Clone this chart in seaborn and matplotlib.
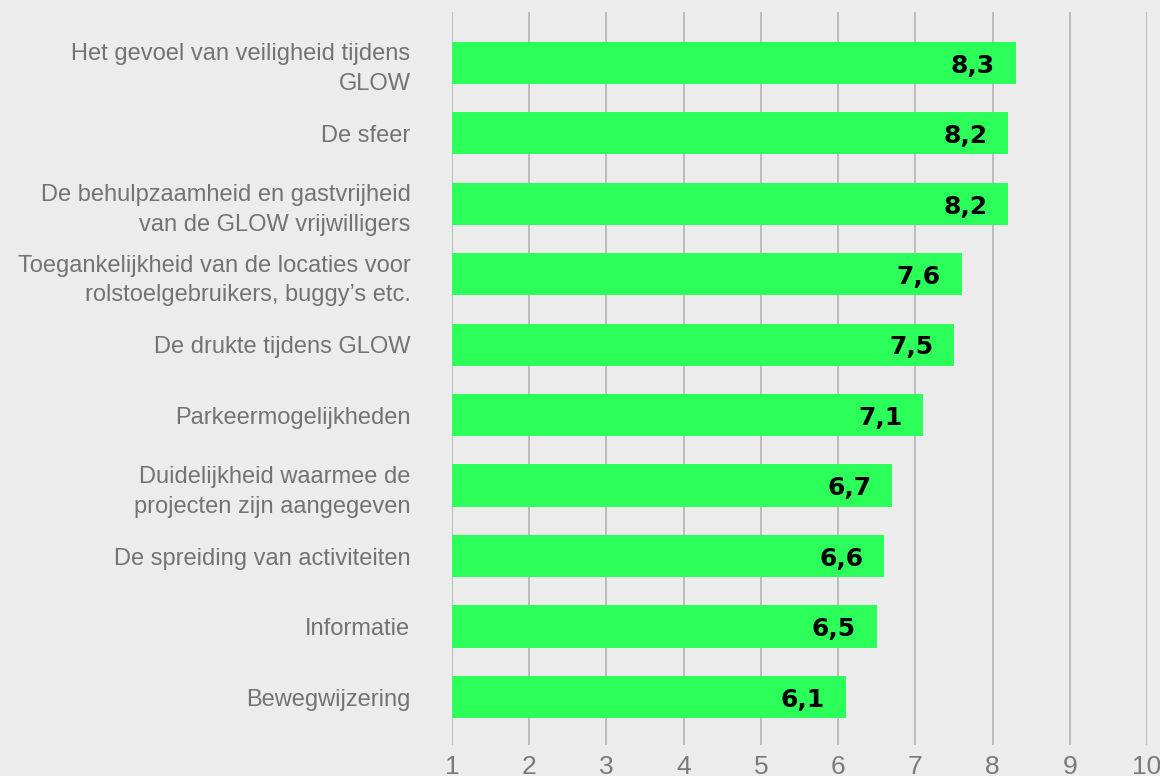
import matplotlib
matplotlib.use("Agg")
import matplotlib.pyplot as plt
import seaborn as sns
import pandas as pd

categories = [
    "Het gevoel van veiligheid tijdens\nGLOW",
    "De sfeer",
    "De behulpzaamheid en gastvrijheid\nvan de GLOW vrijwilligers",
    "Toegankelijkheid van de locaties voor\nrolstoelgebruikers, buggy’s etc.",
    "De drukte tijdens GLOW",
    "Parkeermogelijkheden",
    "Duidelijkheid waarmee de\nprojecten zijn aangegeven",
    "De spreiding van activiteiten",
    "Informatie",
    "Bewegwijzering",
]
scores = [8.3, 8.2, 8.2, 7.6, 7.5, 7.1, 6.7, 6.6, 6.5, 6.1]
x_ticks = [1, 2, 3, 4, 5, 6, 7, 8, 9, 10]

sns.set_theme(style="white")
plt.rcParams["font.family"] = ["Liberation Sans", "DejaVu Sans"]

bg = "#ececec"
fig = plt.figure(figsize=(11.6, 7.76), dpi=100, facecolor=bg)
ax = fig.add_axes([0.3897, 0.040, 0.5991, 0.9445])
ax.set_facecolor(bg)

df = pd.DataFrame({"cat": categories, "score": scores})
sns.barplot(data=df, y="cat", x="score", orient="h", color="#2dff5a",
            saturation=1, width=0.6, ax=ax, zorder=3)

# make bars start at 1
for p in ax.patches:
    w = p.get_width()
    p.set_x(1)
    p.set_width(w - 1)
    p.set_edgecolor("none")

for i, v in enumerate(scores):
    ax.text(v - 0.27, i + 0.04, f"{v:.1f}".replace(".", ","), ha="right", va="center",
            fontsize=18, fontweight="bold", color="black", zorder=4,
            family=["DejaVu Sans"])

ax.set_xlim(1, 10)
ax.set_ylim(len(categories) - 1 + 0.68, -0.72)
ax.set_xticks(x_ticks)
ax.set_xticklabels([str(t) for t in x_ticks])
ax.grid(axis="x", color="#b3b3b3", linewidth=1.2, zorder=0)
ax.grid(axis="y", visible=False)
for s in ax.spines.values():
    s.set_visible(False)
ax.set_xlabel("")
ax.set_ylabel("")
ax.tick_params(axis="x", length=0, labelsize=19, colors="#7a7a7a", pad=7)
ax.tick_params(axis="y", length=0, labelsize=17, colors="#737373", pad=30)
for lbl in ax.get_xticklabels():
    lbl.set_family(["Liberation Sans Narrow", "Liberation Sans"])
for lbl in ax.get_yticklabels():
    lbl.set_horizontalalignment("right")
    lbl.set_linespacing(1.45)

fig.savefig("out.png", dpi=100, facecolor=bg)
